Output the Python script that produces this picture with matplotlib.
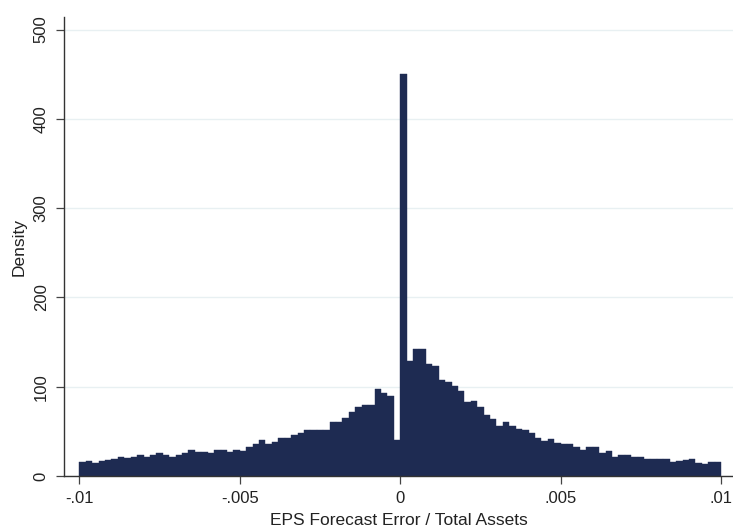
"""Histogram of EPS forecast error scaled by total assets (Stata-style density plot)."""

import matplotlib
matplotlib.use("Agg")
import matplotlib.pyplot as plt  # noqa: E402
import numpy as np  # noqa: E402

# bins: 100 bins of width .0002 on [-.01, .01]
BIN_LO, BIN_HI, NBINS = -0.01, 0.01, 100

# density per bin (left to right)
density_left = [16, 17, 14.5, 17, 18, 18.5, 21, 20, 21, 23,
                21.5, 24, 25.5, 23.5, 21.5, 23, 26, 29.5, 27, 27,
                25.5, 29, 29, 26.5, 29, 28, 32, 35.5, 40, 36,
                38.5, 42, 42.5, 45.5, 48, 52, 52, 52, 51,
                60, 61, 64.5, 72, 77.5, 80, 80, 97, 93, 90, 40]
density_right = [450,
                 129, 142.5, 142.5, 125.5, 123, 108, 105, 100.5, 95, 82.5,
                 84, 77.5, 68, 64, 55.5, 60.5, 56.5, 53, 51,
                 48, 43, 39, 41.5, 37.5, 35.5, 35.5, 32.5, 29.6, 32,
                 32, 25.5, 28, 21.5, 24, 24, 21.5, 21.5, 18.5, 18.5,
                 19.5, 19.5, 16, 17, 17.5, 18.5, 15, 13, 16, 16]

x_ticks = [-0.01, -0.005, 0, 0.005, 0.01]
x_ticklabels = ["-.01", "-.005", "0", ".005", ".01"]
y_ticks = [0, 100, 200, 300, 400, 500]

plt.rcParams["font.family"] = ["Liberation Sans", "DejaVu Sans"]

density = np.array(density_left + density_right, dtype=float)
edges = np.linspace(BIN_LO, BIN_HI, NBINS + 1)

fig = plt.figure(figsize=(7.33, 5.27), dpi=100)
ax = fig.add_axes([64 / 733, 51 / 527, 1 - 64 / 733, (476 - 17) / 527])

ax.bar(edges[:-1], density, width=np.diff(edges), align="edge",
       color="#1e2b52", edgecolor="#1e2b52", linewidth=0.3, zorder=2)

ax.set_xlim(-0.01048, 0.010374)
ax.set_ylim(0, 514)
ax.set_xticks(x_ticks)
ax.set_xticklabels(x_ticklabels)
ax.set_yticks(y_ticks)
ax.set_yticklabels([str(v) for v in y_ticks], rotation=90, va="center")
ax.tick_params(axis="both", labelsize=12, length=6, width=0.9, color="#444444",
               labelcolor="#222222", pad=5)
ax.yaxis.grid(True, color="#e8f0f2", lw=1, zorder=0)
ax.set_axisbelow(True)

for s in ("top", "right"):
    ax.spines[s].set_visible(False)
for s in ("left", "bottom"):
    ax.spines[s].set_color("#333333")
    ax.spines[s].set_linewidth(1.0)

ax.set_ylabel("Density", fontsize=12.5, color="#222222", labelpad=5)
ax.set_xlabel("EPS Forecast Error / Total Assets", fontsize=12.5, color="#222222", labelpad=5)

fig.savefig("out.png", dpi=100)
